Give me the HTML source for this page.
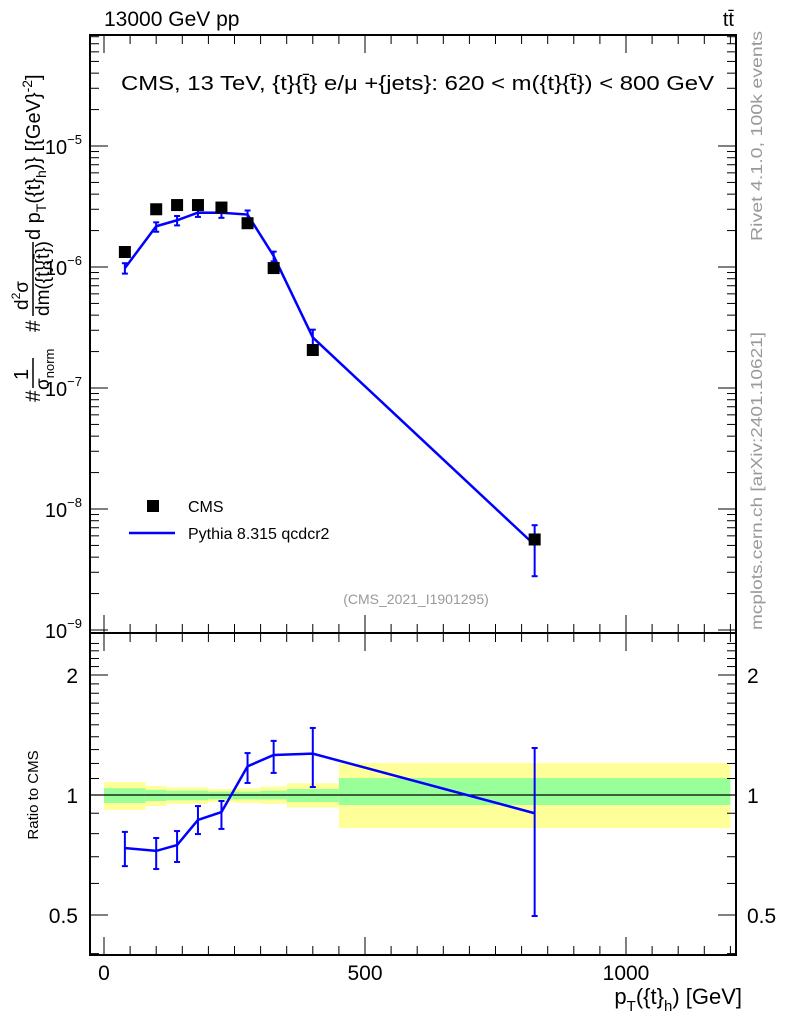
<!DOCTYPE html>
<html><head><meta charset="utf-8"><style>
html,body{margin:0;padding:0;background:#fff;}
svg{display:block;font-family:"Liberation Sans",sans-serif;}
</style></head><body>
<svg id="c" width="786" height="1024" viewBox="0 0 786 1024">
<g id="bands"></g>
<g id="axes"></g>
<g id="marks"></g>
<text x="104" y="26" font-size="21">13000 GeV pp</text>
<text x="734" y="26" font-size="20" text-anchor="end">tt̄</text>
<text x="121" y="90" font-size="20" textLength="593" lengthAdjust="spacingAndGlyphs">CMS, 13 TeV, {t}{t̄} e/μ +{jets}: 620 &lt; m({t}{t̄}) &lt; 800 GeV</text>
<text x="416" y="604" font-size="14" fill="#999" text-anchor="middle">(CMS_2021_I1901295)</text>
<rect x="147" y="500" width="12" height="12" fill="#000"/>
<text x="188" y="512" font-size="16">CMS</text>
<line x1="129" y1="533" x2="175" y2="533" stroke="#0000ff" stroke-width="2.5"/>
<text x="188" y="539" font-size="16">Pythia 8.315 qcdcr2</text>
<text transform="translate(762,241) rotate(-90)" font-size="16" fill="#999" textLength="210" lengthAdjust="spacingAndGlyphs">Rivet 4.1.0,  100k events</text>
<text transform="translate(762,630) rotate(-90)" font-size="16" fill="#999" textLength="298" lengthAdjust="spacingAndGlyphs">mcplots.cern.ch [arXiv:2401.10621]</text>
<g transform="translate(40,402) rotate(-90)">
<text x="0" y="0" font-size="21">#</text>
<text x="22" y="-12" font-size="20">1</text>
<line x1="14" x2="44" y1="-7" y2="-7" stroke="#000" stroke-width="1.5"/>
<text x="12" y="9" font-size="19">σ<tspan font-size="13" dy="5">norm</tspan></text>
<text x="70" y="0" font-size="21">#</text>
<text x="92" y="-12" font-size="19">d<tspan font-size="12" dy="-8">2</tspan><tspan dy="8">σ</tspan></text>
<line x1="86" x2="160" y1="-7" y2="-7" stroke="#000" stroke-width="1.5"/>
<text x="86" y="9" font-size="19">dm({t}{t̄})</text>
<text x="162" y="0" font-size="20">d p<tspan font-size="14" dy="6">T</tspan><tspan dy="-6">({t}</tspan><tspan font-size="14" dy="6">h</tspan><tspan dy="-6">)} [{GeV}</tspan><tspan font-size="14" dy="-8">-2</tspan><tspan dy="8">]</tspan></text>
</g>
<text transform="translate(38,795) rotate(-90)" font-size="15" text-anchor="middle">Ratio to CMS</text>
<text x="742" y="1004" font-size="22" text-anchor="end">p<tspan font-size="15" dy="7">T</tspan><tspan dy="-7">({t}</tspan><tspan font-size="15" dy="7">h</tspan><tspan dy="-7">) [GeV]</tspan></text>
</svg>
<script>
const binLo=[0,80,120,160,200,250,300,350,450];
const binHi=[80,120,160,200,250,300,350,450,1200];
const xCenters=[40,100,140,180,225,275,325,400,825];
const cmsValues=[1.33e-6,3.0e-6,3.25e-6,3.25e-6,3.1e-6,2.3e-6,9.8e-7,2.06e-7,5.6e-9];
const mcRatio=[0.736,0.724,0.749,0.866,0.906,1.18,1.26,1.27,0.90];
const mcRatioLo=[0.663,0.652,0.679,0.798,0.822,1.072,1.136,1.047,0.497];
const mcRatioHi=[0.808,0.780,0.812,0.938,0.966,1.274,1.367,1.473,1.312];
const yellowHi=[1.078,1.053,1.045,1.045,1.035,1.04,1.05,1.07,1.203];
const yellowLo=[0.917,0.938,0.95,0.95,0.96,0.955,0.95,0.93,0.826];
const greenHi=[1.04,1.03,1.025,1.025,1.02,1.02,1.025,1.035,1.103];
const greenLo=[0.955,0.966,0.97,0.97,0.975,0.975,0.975,0.96,0.944];
const xTicks=[0,500,1000];
const mainTicks=[-9,-8,-7,-6,-5];
const ratioTicks=[0.5,1,2];

const NS="http://www.w3.org/2000/svg";
const L=90,R=736,T=35,MID=633,B=955;
const X=v=>104+v*(626-104)/1000;
const Ym=v=>146-121*(Math.log10(v)+5);
const Yr=v=>795-398.6*Math.log10(v);
function mk(tag,at,parent){const e=document.createElementNS(NS,tag);for(const k in at)e.setAttribute(k,at[k]);document.getElementById(parent).appendChild(e);return e;}

for(let i=0;i<binLo.length;i++){
  let r=mk('rect',{x:X(binLo[i]),y:Yr(yellowHi[i]),width:X(binHi[i])-X(binLo[i]),height:Yr(yellowLo[i])-Yr(yellowHi[i]),fill:'#ffff99'},'bands');
  
  
  let g=mk('rect',{x:X(binLo[i]),y:Yr(greenHi[i]),width:X(binHi[i])-X(binLo[i]),height:Yr(greenLo[i])-Yr(greenHi[i]),fill:'#99ff99'},'bands');
  
  
}
let f1=mk('rect',{x:L,y:T,width:R-L,height:MID-T,fill:'none',stroke:'#000','stroke-width':2},'axes');


let f2=mk('rect',{x:L,y:MID,width:R-L,height:B-MID,fill:'none',stroke:'#000','stroke-width':2},'axes');


let one=mk('line',{x1:L,x2:R,y1:Yr(1),y2:Yr(1),stroke:'#000','stroke-width':1.2},'axes');


for(let v=0;v<=1200;v+=50){
  const maj=v%500===0, len=maj?18:9, x=X(v);
  for(const [y0,d] of [[T,1],[MID,-1],[MID,1],[B,-1]]){
    mk('line',{x1:x,x2:x,y1:y0,y2:y0+d*len,stroke:'#000','stroke-width':1},'axes');
  }
}
xTicks.forEach(v=>{let t=mk('text',{x:X(v),y:980,'font-size':21,'text-anchor':'middle'},'axes');t.textContent=v;
  
  });
for(let d=-10;d<=-4;d++){for(let m=1;m<10;m++){const v=m*Math.pow(10,d),y=Ym(v);if(y<T||y>MID)continue;const len=m===1?18:9;
  mk('line',{x1:L,x2:L+len,y1:y,y2:y,stroke:'#000'},'axes');mk('line',{x1:R,x2:R-len,y1:y,y2:y,stroke:'#000'},'axes');}}
mainTicks.forEach(d=>{let t=mk('text',{x:82,y:Ym(Math.pow(10,d))+8,'font-size':20,'text-anchor':'end'},'axes');
  t.innerHTML='10<tspan font-size="13" dy="-10">−'+(-d)+'</tspan>';
  
  });
for(let v=0.4;v<=2.45;v+=0.1){const y=Yr(v);if(y<MID||y>B)continue;const r=Math.round(v*10)/10;const len=(r===0.5||r===1||r===2)?18:9;
  mk('line',{x1:L,x2:L+len,y1:y,y2:y,stroke:'#000'},'axes');mk('line',{x1:R,x2:R-len,y1:y,y2:y,stroke:'#000'},'axes');}
ratioTicks.forEach(v=>{for(const [x,a] of [[78,'end'],[747,'start']]){let t=mk('text',{x:x,y:Yr(v)+8,'font-size':21,'text-anchor':a},'axes');t.textContent=v;
  
  }});
const mcVals=cmsValues.map((c,i)=>c*mcRatio[i]);
let p1=mk('polyline',{points:xCenters.map((x,i)=>X(x)+','+Ym(mcVals[i])).join(' '),fill:'none',stroke:'#0000ff','stroke-width':2.5},'marks');


xCenters.forEach((x,i)=>{const y1=Ym(cmsValues[i]*mcRatioLo[i]),y2=Ym(cmsValues[i]*mcRatioHi[i]),px=X(x);
  mk('line',{x1:px,x2:px,y1:y1,y2:y2,stroke:'#0000ff','stroke-width':2},'marks');
  mk('line',{x1:px-3,x2:px+3,y1:y1,y2:y1,stroke:'#0000ff','stroke-width':2},'marks');
  mk('line',{x1:px-3,x2:px+3,y1:y2,y2:y2,stroke:'#0000ff','stroke-width':2},'marks');
  let r=mk('rect',{x:px-6,y:Ym(cmsValues[i])-6,width:12,height:12,fill:'#000'},'marks');
  
  });
let p2=mk('polyline',{points:xCenters.map((x,i)=>X(x)+','+Yr(mcRatio[i])).join(' '),fill:'none',stroke:'#0000ff','stroke-width':2.5},'marks');


xCenters.forEach((x,i)=>{const y1=Yr(mcRatioLo[i]),y2=Yr(mcRatioHi[i]),px=X(x);
  mk('line',{x1:px,x2:px,y1:y1,y2:y2,stroke:'#0000ff','stroke-width':2},'marks');
  mk('line',{x1:px-3,x2:px+3,y1:y1,y2:y1,stroke:'#0000ff','stroke-width':2},'marks');
  mk('line',{x1:px-3,x2:px+3,y1:y2,y2:y2,stroke:'#0000ff','stroke-width':2},'marks');});
</script>
</body></html>
